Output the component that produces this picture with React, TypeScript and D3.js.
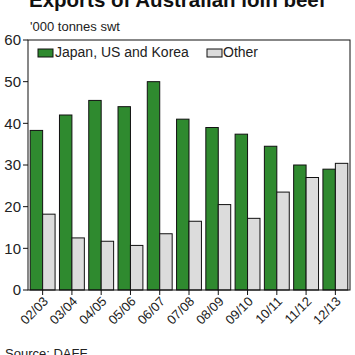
import React from "react";
import * as d3 from "d3";

const categories = ["02/03", "03/04", "04/05", "05/06", "06/07", "07/08", "08/09", "09/10", "10/11", "11/12", "12/13"];
const japanUsKorea = [38.3, 42, 45.5, 44, 50, 41, 39, 37.4, 34.5, 30, 29];
const other = [18.2, 12.5, 11.7, 10.7, 13.5, 16.5, 20.5, 17.2, 23.5, 27, 30.4];
const yTicks = [0, 10, 20, 30, 40, 50, 60];
const seriesNames = ["Japan, US and Korea", "Other"];
const colors = ["#2f8a2f", "#dcdcdc"];

export default function App() {
  const W = 355, H = 355;
  const left = 28, right = 350, top = 40, bottom = 290;
  const x = d3.scaleBand<string>().domain(categories).range([left, right]).paddingInner(0.15).paddingOuter(0.075);
  const x1 = d3.scaleBand<number>().domain([0, 1]).range([0, x.bandwidth()]);
  const y = d3.scaleLinear().domain([0, 60]).range([bottom, top]);
  const font = "Liberation Sans, Arial, sans-serif";
  const series = [japanUsKorea, other];

  return (
    <svg width={W} height={H} style={{ position: "absolute", left: 0, top: 0 }} fontFamily={font}>
      <rect x={0} y={0} width={W} height={H} fill="#fff" />
      <text x={29} y={7} fontSize={20.5} fontWeight="bold" fill="#111">Exports of Australian loin beef</text>
      <text x={30} y={31} fontSize={13} fill="#222">'000 tonnes swt</text>
      {series.map((vals, si) =>
        vals.map((v, i) => (
          <rect key={`${si}-${i}`} x={(x(categories[i]) ?? 0) + (x1(si) ?? 0)} y={y(v)} width={x1.bandwidth()} height={y(0) - y(v)}
            fill={colors[si]} stroke="#111" strokeWidth={1} />
        ))
      )}
      <rect x={left} y={top} width={right - left} height={bottom - top} fill="none" stroke="#111" strokeWidth={1} />
      {yTicks.map((t) => (
        <g key={t}>
          <line x1={left - 5} x2={left} y1={y(t)} y2={y(t)} stroke="#111" />
          <text x={left - 7} y={y(t)} dy="0.35em" textAnchor="end" fontSize={15} fill="#222">{t}</text>
        </g>
      ))}
      {categories.map((c) => {
        const cx = (x(c) ?? 0) + x.bandwidth() / 2;
        return (
          <g key={c}>
            <line x1={cx} x2={cx} y1={bottom} y2={bottom + 5} stroke="#111" />
            <text transform={`translate(${cx + 3},${bottom + 9}) rotate(-45)`} textAnchor="end" dy="0.35em" fontSize={13} fill="#222">{c}</text>
          </g>
        );
      })}
      <rect x={38} y={49} width={15} height={8} fill={colors[0]} stroke="#111" />
      <text x={55} y={57} fontSize={14} fill="#222">{seriesNames[0]}</text>
      <rect x={207} y={49} width={15} height={8} fill={colors[1]} stroke="#111" />
      <text x={223} y={57} fontSize={14} fill="#222">{seriesNames[1]}</text>
      <text x={5} y={358} fontSize={13} fill="#222">Source: DAFF</text>
    </svg>
  );
}
